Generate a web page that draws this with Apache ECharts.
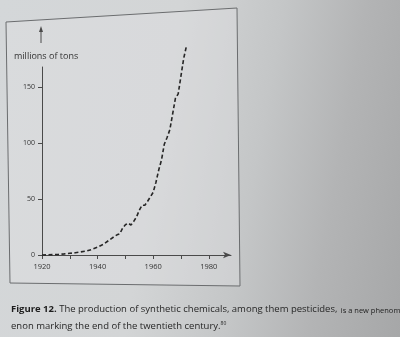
<!DOCTYPE html>
<html>
<head>
<meta charset="utf-8">
<script src="https://cdn.jsdelivr.net/npm/echarts@6/dist/echarts.min.js"></script>
<style>
  html, body { margin: 0; padding: 0; }
  #page {
    width: 400px; height: 337px;
    background: linear-gradient(100deg, #d4d7d9 0%, #d3d5d6 40%, #c4c6c7 62%, #b3b4b5 80%, #a6a7a8 100%);
  }
  #chart { width: 400px; height: 337px; }
</style>
</head>
<body>
<div id="page"><div id="chart"></div></div>
<script>
// ---- data ----
const years = [1920, 1922, 1924, 1926, 1928, 1930, 1932, 1934, 1936, 1938, 1940, 1942, 1944, 1946, 1947, 1948, 1949, 1950, 1951, 1952, 1953, 1954, 1955, 1956, 1957, 1958, 1959, 1960, 1961, 1962, 1963, 1964, 1965, 1966, 1967, 1968, 1969, 1970, 1971, 1972];
const production = [0, 0.2, 0.4, 0.6, 1, 1.5, 2, 2.8, 3.5, 5, 7, 9.5, 13, 16.5, 18, 19, 24, 27, 28.5, 26.8, 30, 34, 40, 44.5, 44.5, 48, 52, 56, 65, 76, 85, 99, 105, 112, 126, 140, 144, 160, 176, 187];
const xTickValues = [1920, 1930, 1940, 1950, 1960, 1970, 1980];
const xLabelValues = [1920, 1940, 1960, 1980];
const yTickValues = [0, 50, 100, 150];
const yAxisName = 'millions of tons';
const captionBold = 'Figure 12.';
const captionLine1 = ' The production of synthetic chemicals, among them pesticides,';
const captionLine1End = 'is a new phenom-';
const captionLine2 = 'enon marking the end of the twentieth century.';
const captionNote = '80';

const chart = echarts.init(document.getElementById('chart'), null, { renderer: 'canvas' });
const font = '"Open Sans", "Noto Sans", sans-serif';

const option = {
  backgroundColor: 'transparent',
  animation: false,
  grid: { left: 42, top: 67, width: 189, height: 188, containLabel: false },
  xAxis: {
    type: 'value', min: 1920, max: 1988,
    axisLine: { show: true, lineStyle: { color: '#4a4a4a', width: 1 }, symbol: ['none', 'arrow'], symbolSize: [5, 8] },
    axisTick: { show: true, length: 4, lineStyle: { color: '#4a4a4a' }, customValues: xTickValues },
    axisLabel: { customValues: xLabelValues, formatter: v => String(v), color: '#333', fontSize: 7.5, fontFamily: font, margin: 8 },
    splitLine: { show: false }
  },
  yAxis: {
    type: 'value', min: 0, max: 168,
    axisLine: { show: true, lineStyle: { color: '#4a4a4a', width: 1 } },
    axisTick: { show: true, length: 4, lineStyle: { color: '#4a4a4a' }, customValues: yTickValues },
    axisLabel: { customValues: yTickValues, formatter: v => String(v), color: '#333', fontSize: 7, fontFamily: font, margin: 7 },
    splitLine: { show: false }
  },
  series: [{
    type: 'line',
    data: years.map((y, i) => [y, production[i]]),
    showSymbol: false,
    clip: false,
    lineStyle: { color: '#262626', width: 1.6, type: [4, 2.5] }
  }]
};
chart.setOption(option);

const origin = chart.convertToPixel({ gridIndex: 0 }, [1920, 0]);
const ax = origin[0] - 1;
chart.setOption({
  graphic: [
    { type: 'polygon', silent: true, z: -1,
      shape: { points: [[6, 22], [237, 8], [240, 286], [10, 283]] },
      style: { fill: 'rgba(225,227,228,0.35)', stroke: '#6a6c6e', lineWidth: 1 } },
    { type: 'line', shape: { x1: ax, y1: 43, x2: ax, y2: 30 }, style: { stroke: '#4a4a4a', lineWidth: 1 } },
    { type: 'polygon', shape: { points: [[ax - 2, 32], [ax + 2, 32], [ax, 26]] }, style: { fill: '#4a4a4a' } },
    { type: 'text', x: 14, y: 56, style: { text: yAxisName, font: '9px ' + font, fill: '#333', textVerticalAlign: 'middle' } },
    { type: 'text', x: 11, y: 309, style: {
        text: '{b|' + captionBold + '}{n|' + captionLine1 + '} {s|' + captionLine1End + '}',
        textVerticalAlign: 'middle',
        rich: {
          b: { font: 'bold 9.5px ' + font, fill: '#1e1e1e' },
          n: { font: '9.5px ' + font, fill: '#262626' },
          s: { font: '7.5px ' + font, fill: '#1e1e1e', verticalAlign: 'bottom' }
        } } },
    { type: 'text', x: 11, y: 326, style: {
        text: '{n|' + captionLine2 + '}{sup|' + captionNote + '}',
        textVerticalAlign: 'middle',
        rich: {
          n: { font: '9.5px ' + font, fill: '#262626' },
          sup: { font: '5px ' + font, fill: '#262626', verticalAlign: 'top' }
        } } }
  ]
});
</script>
</body>
</html>
